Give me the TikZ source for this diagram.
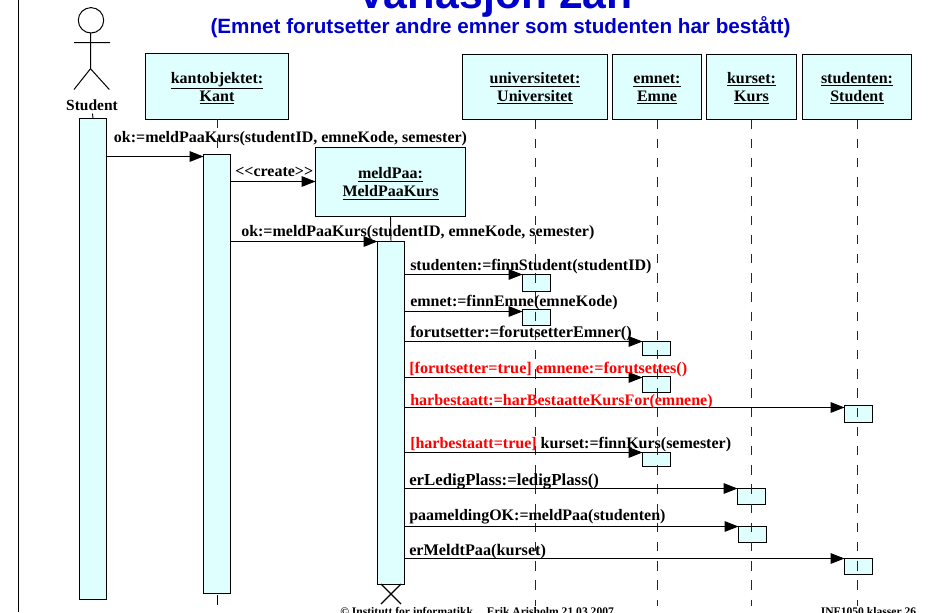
\documentclass[tikz,border=0pt]{standalone}
\usepackage{fontspec}
\setmainfont{Liberation Serif}
\setsansfont{Liberation Sans}
\usetikzlibrary{arrows.meta}
\definecolor{boxfill}{RGB}{223,255,255}
\definecolor{titleblue}{RGB}{0,0,204}
\definecolor{msgred}{RGB}{255,0,0}
\tikzset{
  x=0.75pt,y=-0.75pt,
  obj/.style={draw=black,line width=0.75pt,fill=boxfill,align=center,inner sep=0pt,outer sep=0pt,font=\fontsize{12}{13.5}\selectfont\bfseries},
  act/.style={draw=black,line width=0.75pt,fill=boxfill,inner sep=0pt,outer sep=0pt,anchor=north west},
  life/.style={draw=black!85,line width=0.7pt,dash pattern=on 7.1pt off 7.3pt},
  msg/.style={draw=black,line width=0.75pt,-{Triangle[length=10.5pt,width=8pt]}},
  lbl/.style={anchor=base west,inner sep=0pt,font=\fontsize{12}{14}\selectfont\bfseries},
  redl/.style={lbl,text=msgred},
  foot/.style={anchor=base west,inner sep=0pt,font=\fontsize{8.7}{10}\selectfont\bfseries},
}
\newcommand{\objbox}[6]{\node[obj,minimum width=#4*0.75pt,minimum height=#5*0.75pt,anchor=north west] (#1) at (#2,#3) {\rule{0pt}{11pt}#6};}
\newcommand{\actbox}[5]{\node[act,minimum width=#4*0.75pt,minimum height=#5*0.75pt] (#1) at (#2,#3) {};}
\begin{document}
\begin{tikzpicture}
\useasboundingbox (0,0) rectangle (928,612);
\clip (0,0) rectangle (928,612);
\draw[line width=0.75pt] (18.5,0) -- (18.5,612);
% title
\node[text=titleblue,font=\fontsize{32}{36}\selectfont\sffamily\bfseries,anchor=base] (title) at (495,8) {Variasjon 2an};
\node[text=titleblue,font=\fontsize{15.5}{18}\selectfont\sffamily\bfseries,anchor=base] (sub) at (500.5,33) {(Emnet forutsetter andre emner som studenten har bestått)};
% actor
\draw[line width=0.75pt] (91,20.3) circle (12.7);
\draw[line width=0.75pt] (90.5,33) -- (90.5,68.7) (74,42.5) -- (110,42.5) (74,89.5) -- (90.5,68.7) -- (109.3,89.5);
\node[lbl,font=\fontsize{11.6}{14}\selectfont\bfseries,anchor=base] (actor) at (92,110) {Student};
% activations on lifelines
\actbox{b1}{522.5}{274.5}{28}{17}
\actbox{b2}{522.5}{309.5}{28}{16}
\actbox{b3}{642.5}{341.5}{28}{14}
\actbox{b4}{642.5}{376.5}{28}{16}
\actbox{b5}{844.5}{405.5}{28}{17}
\actbox{b6}{642.5}{452.5}{28}{14}
\actbox{b7}{737.5}{488.5}{28}{16}
\actbox{b8}{738.5}{526.5}{28}{16}
\actbox{b9}{844.5}{558.5}{28}{16}
% lifelines
\coordinate (uBot) at (535,606);
\coordinate (eBot) at (657.5,606);
\coordinate (kBot) at (751,606);
\coordinate (sBot) at (857,606);
\objbox{kant}{145.5}{53.5}{143}{65.5}{\underline{kantobjektet:}\\\underline{Kant}}
\objbox{univ}{462.5}{54}{145}{65.5}{\underline{universitetet:}\\\underline{Universitet}}
\objbox{emne}{612.5}{54}{89}{65.5}{\underline{emnet:}\\\underline{Emne}}
\objbox{kurs}{706.5}{54}{90}{65.5}{\underline{kurset:}\\\underline{Kurs}}
\objbox{stud}{802.5}{54}{109}{65.5}{\underline{studenten:}\\\underline{Student}}
\objbox{meld}{315.5}{147.5}{150}{69}{\underline{meldPaa:}\\\underline{MeldPaaKurs}}
\draw[life] (univ.south -| uBot) -- (uBot);
\draw[life] (emne.south -| eBot) -- (eBot);
\draw[life] (kurs.south -| kBot) -- (kBot);
\draw[life] (stud.south -| sBot) -- (sBot);
\actbox{a0}{79.5}{118.5}{27}{480.5}
\actbox{a1}{203.5}{154.5}{27}{439}
\actbox{a2}{377.5}{241.5}{27}{342.5}
\draw[line width=0.7pt] (92.5,113.5) -- (a0.north);
\draw[life] (kant.south) -- (a1.north);
\coordinate (stubEnd) at (217,605);
\coordinate (stubStart) at (217,595);
\draw[line width=0.75pt] (stubStart) -- (stubEnd);
\draw[line width=0.7pt] (meld.south) -- (a2.north);
% destruction
\coordinate (xa) at (381,584); \coordinate (xb) at (401,604);
\coordinate (xc) at (401,584); \coordinate (xd) at (381,604);
\draw[line width=0.9pt] (xa) -- (xb) (xc) -- (xd);
% messages
\draw[msg] (a0.east |- 0,156.5) -- (a1.west |- 0,156.5);
\draw[msg] (a1.east |- 0,181.5) -- (meld.west |- 0,181.5);
\draw[msg] (a1.east |- a2.north) -- (a2.north west);
\draw[msg] (a2.east |- b1.north) -- (b1.north west);
\draw[msg] (a2.east |- 0,311.5) -- (b2.west |- 0,311.5);
\draw[msg] (a2.east |- b3.north) -- (b3.north west);
\draw[msg] (a2.east |- 0,377.5) -- (b4.west |- 0,377.5);
\draw[msg] (a2.east |- 0,407.5) -- (b5.west |- 0,407.5);
\draw[msg] (a2.east |- b6.north) -- (b6.north west);
\draw[msg] (a2.east |- b7.north) -- (b7.north west);
\draw[msg] (a2.east |- b8.north) -- (b8.north west);
\draw[msg] (a2.east |- b9.north) -- (b9.north west);
% labels
\node[lbl] (l1) at (113.7,142.3) {ok:=meldPaaKurs(studentID, emneKode, semester)};
\node[lbl] (l2) at (235,176.7) {{<}{<}create{>}{>}};
\node[lbl] (l3) at (241,236.7) {ok:=meldPaaKurs(studentID, emneKode, semester)};
\node[lbl] (l4) at (410,270) {studenten:=finnStudent(studentID)};
\node[lbl] (l5) at (410,306.7) {emnet:=finnEmne(emneKode)};
\node[lbl,font=\fontsize{12.2}{14}\selectfont\bfseries] (l6) at (410,337.7) {forutsetter:=forutsetterEmner()};
\node[redl,font=\fontsize{12.15}{14}\selectfont\bfseries] (l7) at (409,373.3) {[forutsetter=true] emnene:=forutsettes()};
\node[redl] (l8) at (410,405) {harbestaatt:=harBestaatteKursFor(emnene)};
\node[lbl] (l9) at (410,448) {\textcolor{msgred}{[harbestaatt=true]} kurset:=finnKurs(semester)};
\node[lbl,font=\fontsize{12.6}{14}\selectfont\bfseries] (l10) at (409,485.7) {erLedigPlass:=ledigPlass()};
\node[lbl] (l11) at (409,520.7) {paameldingOK:=meldPaa(studenten)};
\node[lbl,font=\fontsize{12.15}{14}\selectfont\bfseries] (l12) at (409,555) {erMeldtPaa(kurset)};
% footer
\node[foot] (f1) at (340,615) {© Institutt for informatikk\hspace{10.5pt}Erik Arisholm 21.03.2007};
\node[foot] (f2) at (820.5,615) {INF1050 klasser 26};
\end{tikzpicture}
\end{document}
